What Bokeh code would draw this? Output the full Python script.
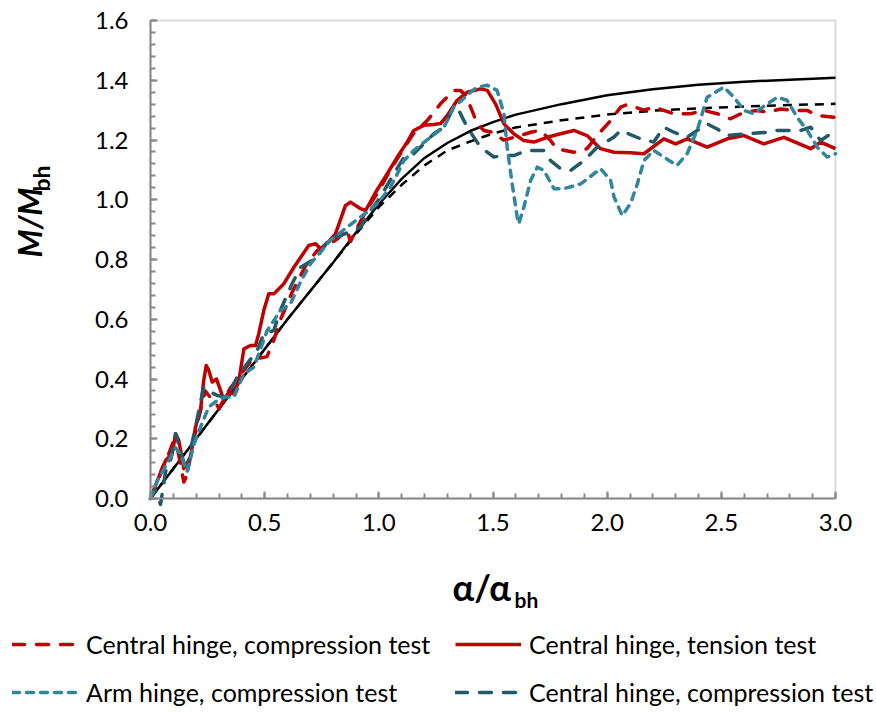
from math import pi
from bokeh.plotting import figure
from bokeh.models import (Range1d, SingleIntervalTicker, PrintfTickFormatter,
                          Legend, LegendItem, Label, LinearAxis, BoxAnnotation)
from bokeh.embed import file_html
from bokeh.resources import INLINE

# ---------------- data ----------------
# analytical curves (black)
model_x = [0, 0.2, 0.4, 0.6, 0.8, 0.9, 1.0, 1.1, 1.2, 1.3, 1.4, 1.5, 1.6,
           1.8, 2.0, 2.2, 2.4, 2.6, 2.8, 3.0]
model_solid = [0, 0.2, 0.4, 0.6, 0.79, 0.89, 0.985, 1.07, 1.14, 1.19, 1.23,
               1.26, 1.285, 1.32, 1.35, 1.37, 1.385, 1.395, 1.402, 1.408]
model_dashed = [0, 0.2, 0.4, 0.6, 0.79, 0.885, 0.975, 1.05, 1.115, 1.165,
                1.195, 1.222, 1.242, 1.266, 1.285, 1.298, 1.306, 1.312,
                1.317, 1.321]

# Central hinge, compression test (red dashed)
cc1_x = [0, 0.03, 0.05, 0.08, 0.10, 0.12, 0.146, 0.16, 0.19, 0.22, 0.24,
         0.26, 0.28, 0.30, 0.32, 0.35, 0.38, 0.41, 0.45, 0.48, 0.51, 0.54,
         0.57, 0.62, 0.68, 0.73, 0.78, 0.82, 0.86, 0.876, 0.90, 0.95, 1.0,
         1.05, 1.10, 1.15, 1.212, 1.27, 1.328, 1.357, 1.38, 1.402, 1.431,
         1.46, 1.497, 1.546, 1.60, 1.665, 1.708, 1.75, 1.78, 1.854, 1.912,
         1.956, 2.015, 2.059, 2.088, 2.16, 2.204, 2.292, 2.365, 2.423,
         2.482, 2.54, 2.599, 2.657, 2.701, 2.76, 2.818, 2.876, 2.92, 3.0]
cc1_y = [0, 0.05, 0.10, 0.15, 0.19, 0.16, 0.055, 0.08, 0.20, 0.30, 0.36,
         0.34, 0.33, 0.30, 0.33, 0.37, 0.40, 0.43, 0.47, 0.47, 0.475, 0.53,
         0.60, 0.69, 0.78, 0.83, 0.85, 0.87, 0.90, 0.86, 0.90, 0.97, 1.03,
         1.10, 1.16, 1.22, 1.265, 1.321, 1.366, 1.366, 1.35, 1.31, 1.254,
         1.232, 1.226, 1.20, 1.21, 1.226, 1.232, 1.20, 1.17, 1.159, 1.171,
         1.215, 1.265, 1.31, 1.319, 1.30, 1.31, 1.288, 1.288, 1.299,
         1.288, 1.271, 1.293, 1.299, 1.293, 1.304, 1.299, 1.299, 1.282, 1.276]

# Central hinge, tension test (red solid)
ct_x = [0, 0.03, 0.066, 0.095, 0.11, 0.124, 0.146, 0.175, 0.197, 0.219,
        0.233, 0.244, 0.255, 0.27, 0.289, 0.307, 0.321, 0.343, 0.365, 0.387,
        0.401, 0.409, 0.438, 0.46, 0.474, 0.496, 0.518, 0.54, 0.584, 0.628,
        0.693, 0.723, 0.745, 0.78, 0.81, 0.854, 0.876, 0.92, 0.942, 0.986,
        1.037, 1.08, 1.124, 1.153, 1.197, 1.241, 1.27, 1.3, 1.343, 1.387,
        1.445, 1.475, 1.511, 1.548, 1.591, 1.635, 1.679, 1.737, 1.796,
        1.854, 1.912, 1.971, 2.03, 2.1, 2.161, 2.248, 2.3, 2.351, 2.438,
        2.526, 2.599, 2.686, 2.774, 2.891, 2.935, 3.0]
ct_y = [0, 0.06, 0.127, 0.15, 0.217, 0.194, 0.10, 0.138, 0.239, 0.295,
        0.395, 0.445, 0.43, 0.39, 0.40, 0.361, 0.328, 0.356, 0.35, 0.395,
        0.462, 0.501, 0.512, 0.512, 0.551, 0.629, 0.685, 0.685, 0.719, 0.774,
        0.847, 0.853, 0.836, 0.86, 0.886, 0.981, 0.992, 0.97, 0.964, 1.025,
        1.087, 1.142, 1.193, 1.232, 1.249, 1.252, 1.255, 1.282, 1.333, 1.36,
        1.371, 1.366, 1.321, 1.254, 1.221, 1.198, 1.193, 1.209, 1.221,
        1.232, 1.215, 1.171, 1.159, 1.157, 1.154, 1.204, 1.187, 1.204, 1.176,
        1.204, 1.215, 1.187, 1.209, 1.171, 1.193, 1.171]

# Arm hinge, compression test (light teal, short dashes)
ah_x = [0, 0.03, 0.06, 0.09, 0.11, 0.13, 0.16, 0.19, 0.219, 0.255, 0.292,
        0.33, 0.365, 0.409, 0.453, 0.511, 0.569, 0.613, 0.66, 0.701, 0.788,
        0.861, 0.92, 0.993, 1.051, 1.11, 1.153, 1.226, 1.285, 1.328, 1.402,
        1.431, 1.475, 1.518, 1.548, 1.562, 1.584, 1.606, 1.613, 1.635,
        1.665, 1.694, 1.723, 1.767, 1.81, 1.884, 1.971, 2.015, 2.03, 2.066,
        2.102, 2.132, 2.161, 2.204, 2.248, 2.306, 2.35, 2.394, 2.438, 2.511,
        2.555, 2.599, 2.642, 2.701, 2.745, 2.788, 2.832, 2.876, 2.92, 2.964,
        3.0]
ah_y = [0, 0.06, 0.10, 0.14, 0.17, 0.15, 0.09, 0.18, 0.239, 0.306, 0.328,
        0.34, 0.339, 0.417, 0.44, 0.562, 0.629, 0.652, 0.73, 0.786, 0.864,
        0.908, 0.942, 0.986, 1.042, 1.131, 1.165, 1.209, 1.243, 1.31, 1.36,
        1.377, 1.383, 1.366, 1.288, 1.176, 1.053, 0.942, 0.92, 0.975,
        1.065, 1.109, 1.098, 1.037, 1.037, 1.053, 1.104, 1.065, 1.009, 0.947,
        0.987, 1.053, 1.131, 1.165, 1.143, 1.115, 1.154, 1.232, 1.343, 1.377,
        1.343, 1.299, 1.288, 1.321, 1.343, 1.333, 1.276, 1.232, 1.176, 1.143,
        1.154]

# Central hinge, compression test (dark teal dashed)
cc2_x = [0, 0.02, 0.044, 0.066, 0.088, 0.11, 0.131, 0.161, 0.175, 0.197,
         0.233, 0.263, 0.292, 0.336, 0.379, 0.423, 0.467, 0.496, 0.54, 0.569,
         0.62, 0.657, 0.73, 0.788, 0.832, 0.92, 0.964, 1.007, 1.066, 1.11,
         1.153, 1.197, 1.241, 1.285, 1.328, 1.343, 1.387, 1.445, 1.504,
         1.548, 1.591, 1.65, 1.723, 1.752, 1.796, 1.84, 1.898, 1.956, 2.03,
         2.059, 2.146, 2.204, 2.248, 2.292, 2.35, 2.438, 2.482, 2.526, 2.613,
         2.701, 2.745, 2.847, 2.891, 2.935, 3.0]
cc2_y = [0, 0.03, -0.02, 0.09, 0.127, 0.217, 0.161, 0.083, 0.161, 0.239,
         0.373, 0.356, 0.345, 0.339, 0.406, 0.451, 0.495, 0.551, 0.562, 0.63,
         0.719, 0.774, 0.808, 0.875, 0.88, 0.908, 0.964, 1.009, 1.087, 1.142,
         1.154, 1.187, 1.221, 1.243, 1.31, 1.31, 1.243, 1.176, 1.143,
         1.148, 1.148, 1.165, 1.165, 1.131, 1.104, 1.098, 1.131, 1.176, 1.21,
         1.232, 1.204, 1.193, 1.243, 1.226, 1.209, 1.254, 1.237, 1.215, 1.221,
         1.226, 1.232, 1.232, 1.243, 1.198, 1.232]

series_labels = ["Central hinge, compression test", "Central hinge, tension test",
                 "Arm hinge, compression test", "Central hinge, compression test"]
x_lim = (0, 3)
y_lim = (0, 1.6)

# ---------------- layout (pixels) ----------------
W, H = 876, 718
BOX_L, BOX_R, BOX_T, BOX_B = 150, 835, 20, 498
sx = (BOX_R - BOX_L) / (x_lim[1] - x_lim[0])
sy = (BOX_B - BOX_T) / (y_lim[1] - y_lim[0])


def dx(px):
    return x_lim[0] + (px - BOX_L) / sx


def dy(py):
    return y_lim[0] + (BOX_B - py) / sy


FONT = "Lato"
GREY = "#898989"
RED = "#C00000"
TEAL_L = "#31859C"
TEAL_D = "#215968"

p = figure(width=W, height=H, output_backend="svg", toolbar_location=None,
           x_range=Range1d(dx(0), dx(W)), y_range=Range1d(dy(H), dy(0)),
           x_axis_location=None, y_axis_location=None,
           min_border=0, background_fill_color="white",
           border_fill_color="white")
p.xgrid.visible = False
p.ygrid.visible = False
p.outline_line_color = None

xaxis = LinearAxis(fixed_location=y_lim[0], bounds=x_lim,
                   ticker=SingleIntervalTicker(interval=0.5, num_minor_ticks=5))
yaxis = LinearAxis(fixed_location=x_lim[0], bounds=y_lim,
                   ticker=SingleIntervalTicker(interval=0.2, num_minor_ticks=5))
for ax in (xaxis, yaxis):
    ax.formatter = PrintfTickFormatter(format="%.1f")
    ax.axis_line_color = GREY
    ax.axis_line_width = 2
    ax.major_tick_line_color = GREY
    ax.major_tick_line_width = 2
    ax.major_tick_in = 7
    ax.major_tick_out = 0
    ax.minor_tick_line_color = GREY
    ax.minor_tick_line_width = 2
    ax.minor_tick_in = 5
    ax.minor_tick_out = 0
    ax.major_label_text_font = FONT
    ax.major_label_text_font_size = "24px"
    ax.major_label_text_color = "black"
xaxis.major_label_standoff = 15
yaxis.major_label_standoff = 22
p.add_layout(xaxis, "below")
p.add_layout(yaxis, "left")

# plot-area border (top and right edges)
p.add_layout(BoxAnnotation(left=x_lim[0], right=x_lim[1], bottom=y_lim[0],
                           top=y_lim[1], fill_alpha=0, line_color=GREY,
                           line_width=2, level="underlay"))

# analytical curves
p.line(model_x, model_solid, line_color="black", line_width=2.5)
p.line(model_x, model_dashed, line_color="black", line_width=2.5, line_dash="9 7")

# experimental curves
r_ct = p.line(ct_x, ct_y, line_color=RED, line_width=3.5, line_join="round")
r_cc1 = p.line(cc1_x, cc1_y, line_color=RED, line_width=3.5, line_dash="12 12",
               line_cap="round", line_join="round")
r_cc2 = p.line(cc2_x, cc2_y, line_color=TEAL_D, line_width=3.5, line_dash="12 12",
               line_cap="round", line_join="round")
r_ah = p.line(ah_x, ah_y, line_color=TEAL_L, line_width=3.5, line_dash="7 7",
              line_cap="round", line_join="round")

legend_style = dict(orientation="vertical", margin=0, padding=0,
                    glyph_width=66, glyph_height=26, label_height=28,
                    label_standoff=8, spacing=18,
                    border_line_alpha=0, background_fill_alpha=0,
                    label_text_font=FONT, label_text_font_size="25px",
                    label_text_color="black")
legend_a = Legend(items=[LegendItem(label=series_labels[0], renderers=[r_cc1]),
                         LegendItem(label=series_labels[2], renderers=[r_ah])],
                  location=(12, 11), **legend_style)
legend_b = Legend(items=[LegendItem(label=series_labels[1], renderers=[r_ct]),
                         LegendItem(label=series_labels[3], renderers=[r_cc2])],
                  location=(455, 11), **legend_style)
p.add_layout(legend_a)
p.add_layout(legend_b)

# axis titles (with subscripts); baseline offset correction ~0.42 em
p.add_layout(Label(x=dx(452), y=dy(586), text="α/α", text_font=FONT,
                   text_font_style="bold", text_font_size="36px",
                   text_color="black", text_align="left",
                   text_baseline="alphabetic"))
p.add_layout(Label(x=dx(514), y=dy(599), text="bh", text_font=FONT,
                   text_font_style="bold", text_font_size="21px",
                   text_color="black", text_align="left",
                   text_baseline="alphabetic"))
p.add_layout(Label(x=dx(29), y=dy(257), text="M/M", text_font=FONT,
                   text_font_style="bold italic", text_font_size="32px",
                   text_color="black", text_align="left",
                   text_baseline="alphabetic", angle=pi / 2))
p.add_layout(Label(x=dx(40), y=dy(191), text="bh", text_font=FONT,
                   text_font_style="bold", text_font_size="23px",
                   text_color="black", text_align="left",
                   text_baseline="alphabetic", angle=pi / 2))

open("out.html", "w").write(file_html(p, INLINE))
